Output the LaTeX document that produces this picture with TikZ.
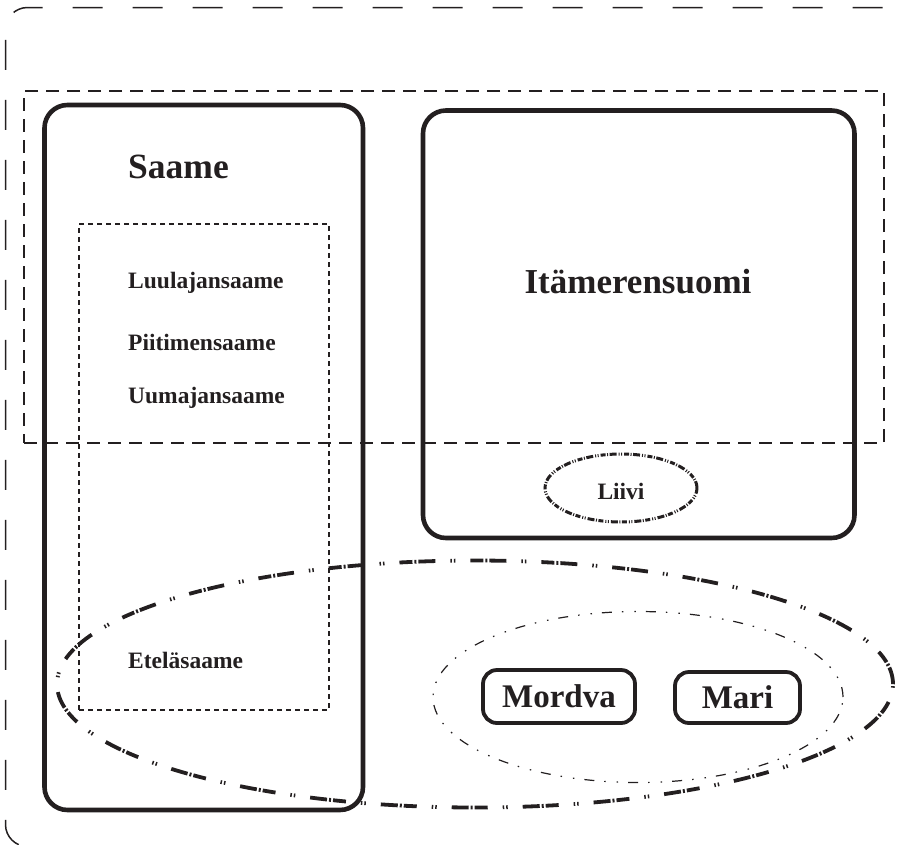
\documentclass[tikz,border=0pt]{standalone}
\usepackage{fontspec}
\setmainfont{Liberation Serif}
\usepackage{xcolor}
\usepackage{tikz}
\usetikzlibrary{shapes.geometric, positioning}
\definecolor{ink}{RGB}{35,31,32}
\newcommand{\fsz}[1]{\fontsize{#1}{#1}\selectfont\bfseries}

\begin{document}
\begin{tikzpicture}[x=1pt, y=-1pt, color=ink,
  group/.style={draw, line width=4.6pt, rounded corners=23pt, inner sep=0pt},
  langbox/.style={draw, line width=3.8pt, rounded corners=14pt, inner sep=0pt},
  subgroup/.style={draw, line width=1.2pt, dash pattern=on 5pt off 4pt, inner sep=0pt},
  zone/.style={draw, line width=1.3pt, dash pattern=on 13pt off 8pt, inner sep=0pt},
  uralic/.style={ellipse, draw, line width=3.8pt, inner sep=0pt,
    dash pattern=on 17pt off 2pt on 2pt off 2pt on 13pt off 15pt on 1.5pt off 2pt on 1.5pt off 15pt},
  volga/.style={ellipse, draw, line width=1.2pt, inner sep=0pt,
    dash pattern=on 10pt off 10pt on 1.5pt off 11pt on 1.5pt off 10pt},
  liivi/.style={ellipse, draw, line width=3pt, inner sep=0pt,
    dash pattern=on 7pt off 1.5pt on 1pt off 1.5pt on 5pt off 2pt on 1pt off 1.5pt on 1pt off 2pt},
  lbl/.style={anchor=base west, inner sep=0pt}]
\useasboundingbox (0,0) rectangle (900,844);
\clip (0,0) rectangle (900,844);
\draw[line width=1.5pt, dash pattern=on 30pt off 30pt, dash phase=38.44pt, rounded corners=22pt]
  (940,846.5) -- (5.5,846.5) -- (5.5,7.5) -- (940,7.5);

\node[zone, minimum width=860pt, minimum height=352pt] (baltic) at (454,267) {};
\node[group, minimum width=318.5pt, minimum height=705pt] (saame) at (203.75,457.5) {};
\node[group, minimum width=431.5pt, minimum height=427.5pt] (itamer) at (638.75,324.25) {};
\node[subgroup, minimum width=250pt, minimum height=486pt] (west) at (204,467) {};

\node[lbl, font=\fsz{35.5}] (saamelbl) at (128,178) {Saame};
\node[lbl, font=\fsz{23.5}] (luulaja) at (128,288) {Luulajansaame};
\node[lbl, font=\fsz{23.5}] (piitime) at (128,350) {Piitimensaame};
\node[lbl, font=\fsz{23.5}] (uumaja) at (128,403) {Uumajansaame};
\node[lbl, font=\fsz{23.5}] (etela) at (128,668) {Eteläsaame};
\node[anchor=base, font=\fsz{35}] (itamerlbl) at (638,293) {Itämerensuomi};

\node[liivi, minimum width=152pt, minimum height=68pt] (liv) at (621,488) {};
\node[font=\fsz{23.5}] (livlbl) at (621,491) {Liivi};

\node[uralic, minimum width=836pt, minimum height=247pt] (fennougric) at (475,684) {};
\node[volga, minimum width=410pt, minimum height=171pt] (volgaic) at (638,697) {};
\node[langbox, minimum width=152pt, minimum height=53pt, font=\fsz{33}] (mordva) at (559,696.5) {Mordva};
\node[langbox, minimum width=125pt, minimum height=51pt, font=\fsz{33}] (mari) at (737.5,697.5) {Mari};
\end{tikzpicture}
\end{document}
